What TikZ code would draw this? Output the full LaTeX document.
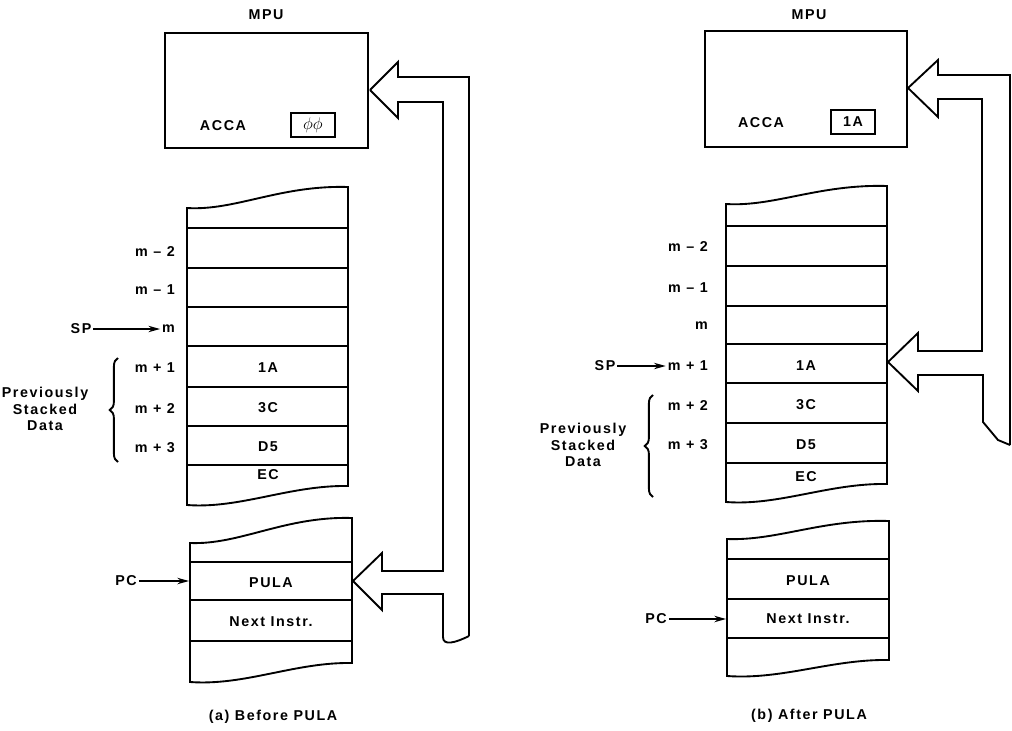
\documentclass[tikz,border=0pt]{standalone}
\usepackage{fontspec}
\setmainfont{Liberation Sans}[LetterSpace=11]
\usetikzlibrary{arrows.meta,decorations.pathreplacing}
\begin{document}
\begin{tikzpicture}[x=0.03cm,y=-0.03cm,line width=1.6pt,
  txt/.style={font=\fontsize{12.2}{14}\selectfont\bfseries,inner sep=1pt},
  lbl/.style={txt,anchor=east},
  ptr/.style={-{Stealth[length=10pt,width=5.5pt]},line width=1.1pt},
  reg/.style={txt,draw,line width=1.5pt,minimum width=1.3cm,minimum height=0.7cm},
  brc/.style={decorate,decoration={brace,amplitude=7pt},line width=1.6pt}]
\useasboundingbox (0,0) rectangle (1012,730);

% (a) before PULA
\node[txt] (mpua) at (266,15) {MPU};
\draw (165,33) rectangle (368,148);
\node[txt] (accaa) at (223,126) {ACCA};
\node[reg,font=\fontsize{15}{17}\selectfont] (rega) at (313,125) {$\phi\phi$};
% data bus
\draw (370,90) -- (398,62) -- (398,77) -- (469,77) -- (469,636);
\draw (370,90) -- (398,118) -- (398,102) -- (443,102) -- (443,571) -- (382,571)
  -- (382,553) -- (353,581) -- (382,610) -- (382,594) -- (443,594) -- (443,637)
  .. controls (443,646) and (455,643) .. (469,636);
% stack
\draw (187,208) .. controls (235,211) and (280,185) .. (348,187) -- (348,486)
  .. controls (290,485) and (240,509) .. (187,505) -- cycle;
\foreach \y in {228,268,307,346,387,426,465}
  \draw (187,\y) -- (348,\y);
\node[lbl] (am2) at (177,252) {m – 2};
\node[lbl] (am1) at (177,290) {m – 1};
\node[lbl] (am0) at (177,329) {m};
\node[lbl] (ap1) at (177,368) {m + 1};
\node[lbl] (ap2) at (177,409) {m + 2};
\node[lbl] (ap3) at (177,448) {m + 3};
\node[txt] at (268,368) {1A};
\node[txt] at (268,408) {3C};
\node[txt] at (268,447) {D5};
\node[txt] at (268,475) {EC};
\node[txt] (spa) at (81,329) {SP};
\draw[ptr] (spa) -- (am0);
\draw[brc] (118,462) -- (118,358);
\node[txt,align=center] (prva) at (45,409) {Previously\\Stacked\\Data};
% program
\draw (190,543) .. controls (240,545) and (285,516) .. (352,518) -- (352,663)
  .. controls (295,662) and (245,686) .. (190,682) -- cycle;
\foreach \y in {562,600,641}
  \draw (190,\y) -- (352,\y);
\node[txt] (pula) at (271,583) {PULA};
\node[txt] (nxta) at (271,622) {Next Instr.};
\node[txt] (pca) at (126,581) {PC};
\coordinate (pcta) at (189,581);
\draw[ptr] (pca) -- (pcta);
\node[txt] (capa) at (273,717) {(a) Before PULA};

% (b) after PULA
\node[txt] (mpub) at (809,15) {MPU};
\draw (705,31) rectangle (907,147);
\node[txt] (accab) at (761,123) {ACCA};
\node[reg] (regb) at (853,122) {1A};
% data bus
\draw (908,88) -- (938,60) -- (938,75) -- (1010,75) -- (1010,445);
\draw (908,88) -- (938,117) -- (938,99) -- (982,99) -- (982,351) -- (918,351)
  -- (918,333) -- (888,362) -- (918,391) -- (918,375) -- (983,375) -- (983,422)
  -- (998,440) -- (1010,445);
% stack
\draw (726,204) .. controls (774,207) and (819,184) .. (887,186) -- (887,484)
  .. controls (829,483) and (779,506) .. (726,502) -- cycle;
\foreach \y in {226,266,306,344,383,423,463}
  \draw (726,\y) -- (887,\y);
\node[lbl] (bm2) at (710,247) {m – 2};
\node[lbl] (bm1) at (710,288) {m – 1};
\node[lbl] (bm0) at (710,326) {m};
\node[lbl] (bp1) at (710,366) {m + 1};
\node[lbl] (bp2) at (710,406) {m + 2};
\node[lbl] (bp3) at (710,445) {m + 3};
\node[txt] at (806,366) {1A};
\node[txt] at (806,405) {3C};
\node[txt] at (806,445) {D5};
\node[txt] at (806,477) {EC};
\node[txt] (spb) at (605,366) {SP};
\draw[ptr] (spb) -- (bp1);
\draw[brc] (653,497) -- (653,395);
\node[txt,align=center] (prvb) at (583,445) {Previously\\Stacked\\Data};
% program
\draw (727,539) .. controls (777,541) and (822,519) .. (889,521) -- (889,660)
  .. controls (832,659) and (782,680) .. (727,676) -- cycle;
\foreach \y in {559,599,638}
  \draw (727,\y) -- (889,\y);
\node[txt] (pulb) at (808,581) {PULA};
\node[txt] (nxtb) at (808,619) {Next Instr.};
\node[txt] (pcb) at (656,619) {PC};
\coordinate (pctb) at (726,619);
\draw[ptr] (pcb) -- (pctb);
\node[txt] (capb) at (809,716) {(b) After PULA};
\end{tikzpicture}
\end{document}
